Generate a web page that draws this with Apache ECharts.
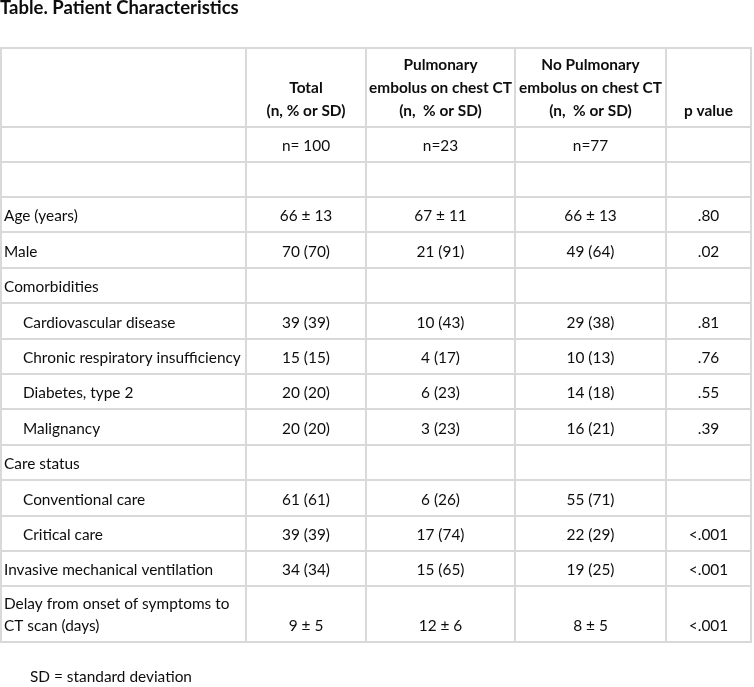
<!DOCTYPE html>
<html>
<head>
<meta charset="utf-8">
<script src="https://cdn.jsdelivr.net/npm/echarts@6/dist/echarts.min.js"></script>
<style>html,body{margin:0;padding:0;background:#fff;}#c{width:754px;height:687px;}</style>
</head>
<body>
<div id="c"></div>
<script>
// ---- data ----
const headerCols = ['', 'Total\n(n, % or SD)', 'Pulmonary\nembolus on chest CT\n(n,  % or SD)', 'No Pulmonary\nembolus on chest CT\n(n,  % or SD)', 'p value'];
const rowLabels = ['', '', 'Age (years)', 'Male', 'Comorbidities', 'Cardiovascular disease', 'Chronic respiratory insufficiency', 'Diabetes, type 2', 'Malignancy', 'Care status', 'Conventional care', 'Critical care', 'Invasive mechanical ventilation', 'Delay from onset of symptoms to\nCT scan (days)'];
const isSubItem = [false, false, false, false, false, true, true, true, true, false, true, true, false, false];
const totalCol = ['n= 100', '', '66 ± 13', '70 (70)', '', '39 (39)', '15 (15)', '20 (20)', '20 (20)', '', '61 (61)', '39 (39)', '34 (34)', '9 ± 5'];
const peCol = ['n=23', '', '67 ± 11', '21 (91)', '', '10 (43)', '4 (17)', '6 (23)', '3 (23)', '', '6 (26)', '17 (74)', '15 (65)', '12 ± 6'];
const noPeCol = ['n=77', '', '66 ± 13', '49 (64)', '', '29 (38)', '10 (13)', '14 (18)', '16 (21)', '', '55 (71)', '22 (29)', '19 (25)', '8 ± 5'];
const pValues = ['', '', '.80', '.02', '', '.81', '.76', '.55', '.39', '', '', '<.001', '<.001', '<.001'];
const titleText = 'Table. Patient Characteristics';
const footnote = 'SD = standard deviation';

// ---- layout (axis units = pixels) ----
const colEdges = [1, 246, 366, 515, 666, 751];
const rowEdges = [48, 127, 162, 197, 232, 268, 303, 339, 374, 409, 445, 480, 516, 551, 586, 642];
const FONT = '"Lato", "Open Sans", sans-serif';
const FS = 15.4;
const HFS = 15.4;

const columns = [rowLabels, totalCol, peCol, noPeCol, pValues];
const cells = [];
for (let c = 0; c < 5; c++) {
  cells.push({ value: [c, 0], text: headerCols[c], header: true });
  for (let r = 0; r < rowLabels.length; r++) {
    cells.push({ value: [c, r + 1], text: columns[c][r], header: false, sub: c === 0 && isSubItem[r] });
  }
}

function renderItem(params, api) {
  const c = api.value(0), r = api.value(1);
  const d = cells[params.dataIndex];
  const p0 = api.coord([colEdges[c], rowEdges[r]]);
  const p1 = api.coord([colEdges[c + 1], rowEdges[r + 1]]);
  const lines = d.text ? d.text.split('\n').length : 0;
  const lh = d.header ? 23 : 22;
  const lastCenter = p1[1] - 16;
  const blockCenter = lastCenter - (lines - 1) * lh / 2;
  const children = [{
    type: 'rect',
    shape: { x: p0[0], y: p0[1], width: p1[0] - p0[0], height: p1[1] - p0[1] },
    style: { fill: '#fff', stroke: '#d9d9d9', lineWidth: 2 }
  }];
  if (d.text) {
    let x, align;
    if (c === 0) { x = p0[0] + (d.sub ? 22 : 3); align = 'left'; }
    else { x = (p0[0] + p1[0]) / 2; align = 'center'; }
    children.push({
      type: 'text',
      style: {
        text: d.text, x: x, y: blockCenter, align: align, verticalAlign: 'middle',
        lineHeight: lh,
        font: (d.header ? 'bold ' + HFS : FS) + 'px ' + FONT,
        fill: '#0d0d0d'
      }
    });
  }
  return { type: 'group', children: children };
}

const chart = echarts.init(document.getElementById('c'));
chart.setOption({
  backgroundColor: '#fff',
  animation: false,
  title: [
    { text: titleText, left: 0, top: -1, padding: 0,
      textStyle: { fontFamily: FONT, fontSize: 18.5, fontWeight: 'bold', color: '#0d0d0d' } },
    { text: footnote, left: 30, top: 670, padding: 0,
      textStyle: { fontFamily: FONT, fontSize: FS, fontWeight: 'normal', color: '#0d0d0d' } }
  ],
  grid: { left: 0, right: 0, top: 0, bottom: 0 },
  xAxis: { type: 'value', min: 0, max: 754, show: false },
  yAxis: { type: 'value', min: 0, max: 687, inverse: true, show: false },
  series: [{
    type: 'custom',
    renderItem: renderItem,
    data: cells.map(d => d.value),
    clip: false
  }]
});
</script>
</body>
</html>
